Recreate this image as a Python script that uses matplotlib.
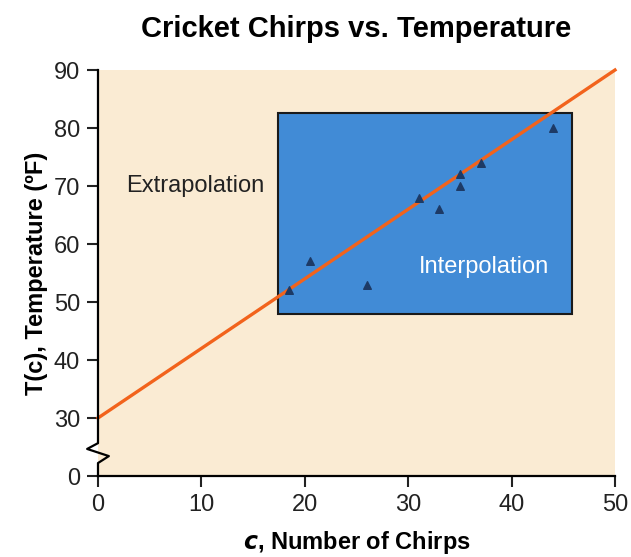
#!/usr/bin/env python3
"""
Cricket chirps vs temperature, con zona de interpolacion.
"""

import numpy as np
import matplotlib.pyplot as plt
from matplotlib.patches import Rectangle
import matplotlib.transforms as mtransforms

plt.rcParams["font.family"] = ["Liberation Sans", "DejaVu Sans"]

# datos
chirps = [18.5, 20.5, 26, 31, 33, 35, 35, 37, 44]
temps = [52, 57, 53, 68, 66, 72, 70, 74, 80]
fit_x = [0, 50]
slope, intercept = 1.2, 30
x_ticks = [0, 10, 20, 30, 40, 50]
y_ticks = [0, 30, 40, 50, 60, 70, 80, 90]
box_c = (17.4, 45.8)
box_t = (48, 82.6)


# eje y cortado: 0..30 se comprime en el mismo espacio que 10 unidades
def fwd(y):
    y = np.asarray(y, dtype=float)
    return np.where(y >= 30, y - 10, y / 3 + 10)


def inv(y):
    y = np.asarray(y, dtype=float)
    return np.where(y >= 20, y + 10, (y - 10) * 3)


def main():
    fig = plt.figure(figsize=(6.31, 5.57), dpi=100)
    ax = fig.add_axes([0.1553, 0.1454, 0.8193, 0.7289])
    ax.set_yscale("function", functions=(fwd, inv))
    ax.set_xlim(0, 50)
    ax.set_ylim(0, 90)
    ax.set_facecolor("#faebd3")

    # caja de interpolacion
    ax.add_patch(Rectangle((box_c[0], box_t[0]), box_c[1] - box_c[0], box_t[1] - box_t[0],
                           facecolor="#418bd6", edgecolor="#1a1a1a", linewidth=1.5, zorder=2))

    fx = np.array(fit_x)
    ax.plot(fx, slope * fx + intercept, color="#f2631c", linewidth=2.4, zorder=3, clip_on=False)
    ax.scatter(chirps, temps, marker="^", s=30, color="#1d3a66", zorder=4)

    ax.text(9.4, 70, "Extrapolation", fontsize=17, ha="center", va="center", color="#222222")
    ax.text(37.3, 56, "Interpolation", fontsize=17, ha="center", va="center", color="white", zorder=5)

    # ejes
    for s in ["top", "right", "left"]:
        ax.spines[s].set_visible(False)
    ax.spines["bottom"].set_linewidth(1.6)
    trans = mtransforms.blended_transform_factory(ax.transAxes, ax.transData)
    d = 0.021
    ax.plot([0, 0, -d, d, 0, 0], [90, 17, 14, 10.3, 6.7, 0], color="black",
            linewidth=1.6, transform=trans, clip_on=False, zorder=6)

    ax.set_xticks(x_ticks)
    ax.set_yticks(y_ticks)
    ax.tick_params(direction="out", length=8, width=1.5, labelsize=17, pad=5, colors="#222222")

    ax.set_title("Cricket Chirps vs. Temperature", fontsize=21, fontweight="bold", pad=24)
    ax.set_xlabel(r"$\mathbfit{c}$, Number of Chirps", fontsize=17, fontweight="bold", labelpad=9)
    ax.set_ylabel("T(c), Temperature (ºF)", fontsize=17, fontweight="bold", labelpad=4)

    plt.savefig("out.png", dpi=100)


if __name__ == "__main__":
    main()
